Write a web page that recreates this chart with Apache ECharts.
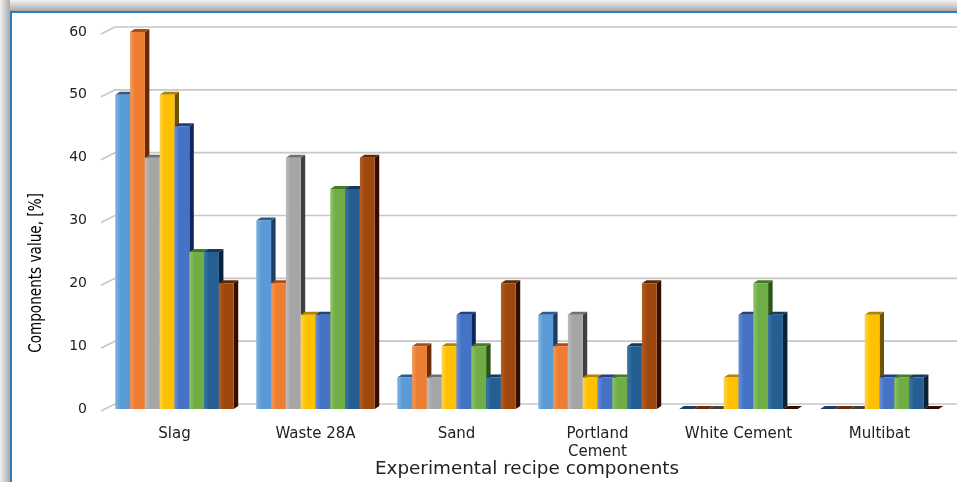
<!DOCTYPE html>
<html>
<head>
<meta charset="utf-8">
<script src="https://cdn.jsdelivr.net/npm/echarts@6/dist/echarts.min.js"></script>
<style>html,body{margin:0;padding:0;background:#fff}#c{width:957px;height:482px}</style>
</head>
<body>
<div id="c"></div>
<script>
const categories = ['Slag', 'Waste 28A', 'Sand', 'Portland\nCement', 'White Cement', 'Multibat'];
const yTicks = [0, 10, 20, 30, 40, 50, 60];
const s1 = [50, 30, 5, 15, 0, 0];
const s2 = [60, 20, 10, 10, 0, 0];
const s3 = [40, 40, 5, 15, 0, 0];
const s4 = [50, 15, 10, 5, 5, 15];
const s5 = [45, 15, 15, 5, 15, 5];
const s6 = [25, 35, 10, 5, 20, 5];
const s7 = [25, 35, 5, 10, 15, 5];
const s8 = [20, 40, 20, 20, 0, 0];
const seriesValues = [s1, s2, s3, s4, s5, s6, s7, s8];

const palette = [
  {front:'#5B9BD5', light:'#7fb3e3', side:'#1c3d66', top:'#2c5a8e'},
  {front:'#ED7D31', light:'#f39a5c', side:'#6a2c06', top:'#a84f14'},
  {front:'#A5A5A5', light:'#bdbdbd', side:'#3f3f3f', top:'#707070'},
  {front:'#FFC000', light:'#ffd34d', side:'#6f5200', top:'#b08400'},
  {front:'#4472C4', light:'#6690da', side:'#0f2658', top:'#213f80'},
  {front:'#70AD47', light:'#8cc466', side:'#2a5614', top:'#467a26'},
  {front:'#255E91', light:'#3a77ab', side:'#0a2238', top:'#153a5c'},
  {front:'#9E480E', light:'#b55e22', side:'#340f00', top:'#5e2a06'}
];

const N = seriesValues.length;
function makeRender(si){
  const c = palette[si];
  return function(params, api){
    const cat = api.value(0), v = api.value(1);
    const base = api.coord([cat, 0]);
    const topP = api.coord([cat, v]);
    const band = api.size([1, 0])[0];
    const groupW = band * 0.84;
    const bw = groupW / N;
    const xl = base[0] - groupW / 2 + si * bw;
    const xr = xl + bw;
    const yb = base[1], yt = topP[1];
    const dx = 4.5, dy = 3;
    const children = [];
    children.push({type:'polygon', shape:{points:[[xr,yb],[xr+dx,yb-dy],[xr+dx,yt-dy],[xr,yt]]}, style:{fill:c.side}});
    children.push({type:'polygon', shape:{points:[[xl,yt],[xl+dx,yt-dy],[xr+dx,yt-dy],[xr,yt]]}, style:{fill: v === 0 ? c.side : c.top}});
    if (yb - yt > 0) {
      children.push({type:'rect', shape:{x:xl, y:yt, width:bw, height:yb-yt}, style:{
        fill: new echarts.graphic.LinearGradient(0,0,1,0,[{offset:0,color:c.light},{offset:0.35,color:c.front},{offset:1,color:c.front}])
      }});
    }
    return {type:'group', children};
  };
}

const series = seriesValues.map((vals, si) => ({
  type:'custom',
  name:'S' + (si+1),
  renderItem: makeRender(si),
  encode:{x:0, y:1},
  data: vals.map((v, i) => [i, v]),
  z: 2 + si
}));

const baseGraphic = [
  {type:'rect', z:-20, shape:{x:0,y:0,width:957,height:482}, style:{fill:'#cfcfcf'}},
  {type:'rect', z:-19, shape:{x:0,y:0,width:957,height:11}, style:{fill:new echarts.graphic.LinearGradient(0,0,0,1,[{offset:0,color:'#f4f4f4'},{offset:1,color:'#a9a9a9'}])}},
  {type:'rect', z:-19, shape:{x:0,y:0,width:10,height:482}, style:{fill:new echarts.graphic.LinearGradient(0,0,1,0,[{offset:0,color:'#f0f0f0'},{offset:1,color:'#a9a9a9'}])}},
  {type:'rect', z:-18, shape:{x:11,y:12,width:960,height:480}, style:{fill:'#ffffff', stroke:'#2e7bc4', lineWidth:2}},
  {type:'text', z:10, x:36, y:273, rotation:Math.PI/2, scaleX:0.84, style:{text:'Components value, [%]', fill:'#000', font:'18px "Liberation Sans Narrow", "DejaVu Sans Condensed", sans-serif', textAlign:'center', textVerticalAlign:'middle'}},
  {type:'text', z:10, x:527, y:470, scaleX:1.08, style:{text:'Experimental recipe components', fill:'#222', font:'17px "DejaVu Sans", Verdana, sans-serif', textAlign:'center', textVerticalAlign:'middle'}}
];

const chart = echarts.init(document.getElementById('c'), null, {renderer:'canvas'});
chart.setOption({
  animation:false,
  backgroundColor:'#ffffff',
  graphic: baseGraphic,
  grid:{left:104, right:7, top:32, bottom:73, containLabel:false},
  xAxis:{
    type:'category',
    data:categories,
    axisLine:{show:false},
    axisTick:{show:false},
    axisLabel:{color:'#222', fontSize:15, fontFamily:'"DejaVu Sans", Verdana, sans-serif', margin:16, lineHeight:18, interval:0},
    splitLine:{show:false}
  },
  yAxis:{
    type:'value', min:yTicks[0], max:yTicks[yTicks.length-1], interval:10,
    axisLine:{show:false}, axisTick:{show:false},
    axisLabel:{color:'#222', fontSize:14, fontFamily:'"DejaVu Sans", Verdana, sans-serif', margin:17},
    splitLine:{show:false}
  },
  series
});

// perspective gridlines (back wall) derived from the value axis
const gridLines = yTicks.map(t => {
  const y = chart.convertToPixel({yAxisIndex:0}, t);
  const xl = chart.convertToPixel({xAxisIndex:0}, 0) - chart.getModel().getComponent('xAxis',0).axis.getBandWidth()/2;
  return {type:'polyline', z:-5, shape:{points:[[xl-3, y+2],[xl+11, y-5],[957, y-5]]}, style:{stroke:'#c8c8c8', lineWidth:1.6, fill:null}};
});
chart.setOption({graphic: baseGraphic.concat(gridLines)});
</script>
</body>
</html>
